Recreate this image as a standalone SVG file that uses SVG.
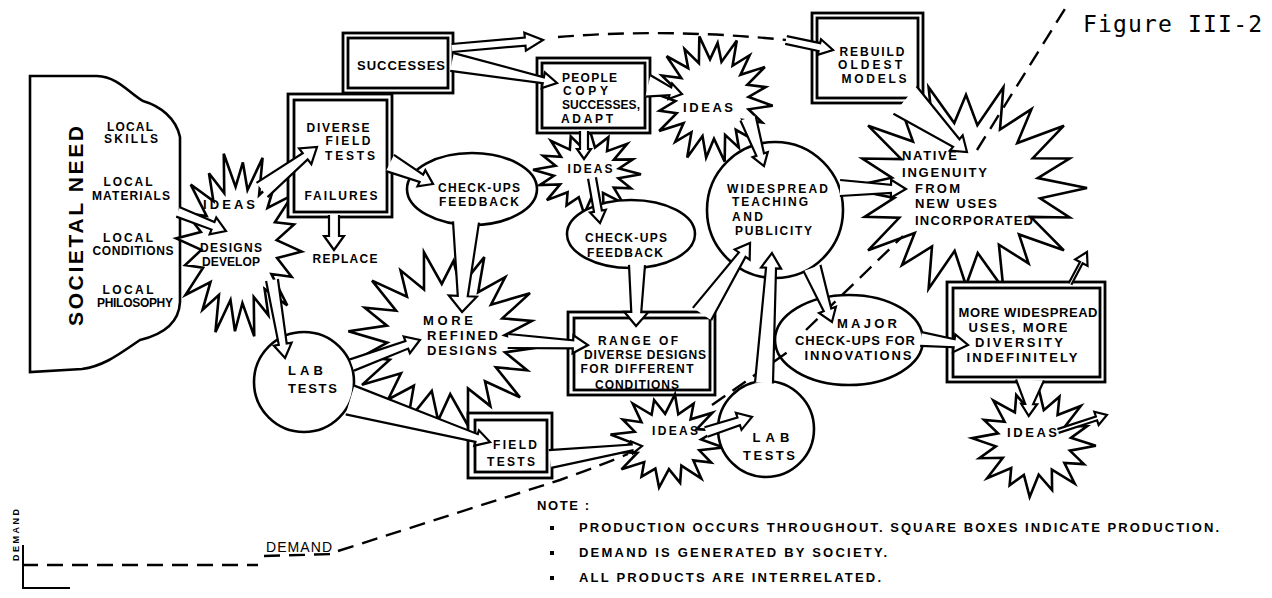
<svg xmlns="http://www.w3.org/2000/svg" width="1272" height="598" viewBox="0 0 1272 598">
<defs>
<style>
.s{fill:#fff;stroke:#000;stroke-width:2.6;stroke-linejoin:miter}
.b{fill:#fff;stroke:#000;stroke-width:2.8}
.a{fill:#fff;stroke:#000;stroke-width:2.2;stroke-linejoin:miter}
.d{fill:none;stroke:#000;stroke-width:2.4;stroke-dasharray:16 9}
.ax{fill:none;stroke:#000;stroke-width:2}
.t{font-family:"Liberation Sans",Arial,sans-serif;font-weight:bold;font-size:12px;fill:#000;text-anchor:middle}
.l{text-anchor:start}
.m{font-size:13px}
.n{font-family:"Liberation Sans",Arial,sans-serif;font-weight:bold;font-size:13px;fill:#000}
.f{font-family:"DejaVu Sans Mono","Liberation Mono",monospace;font-size:23px;fill:#000}
</style>
<path id="star" vector-effect="non-scaling-stroke" d="M1,0 L0.589,0.117 L0.832,0.345 L0.515,0.345 L0.707,0.707 L0.322,0.482 L0.352,0.85 L0.117,0.589 L0,1 L-0.121,0.608 L-0.337,0.813 L-0.334,0.499 L-0.707,0.707 L-0.482,0.322 L-0.859,0.356 L-0.608,0.121 L-1,0 L-0.589,-0.117 L-0.832,-0.345 L-0.499,-0.334 L-0.707,-0.707 L-0.345,-0.515 L-0.345,-0.832 L-0.113,-0.569 L0,-1 L0.117,-0.589 L0.352,-0.85 L0.345,-0.515 L0.707,-0.707 L0.482,-0.322 L0.832,-0.345 L0.589,-0.117 Z"/>
<path id="star20" vector-effect="non-scaling-stroke" d="M1,0 L0.613,0.097 L0.856,0.278 L0.535,0.272 L0.809,0.588 L0.438,0.438 L0.517,0.712 L0.272,0.535 L0.309,0.951 L0.097,0.613 L0,0.92 L-0.094,0.593 L-0.309,0.951 L-0.281,0.552 L-0.529,0.728 L-0.424,0.424 L-0.809,0.588 L-0.552,0.281 L-0.837,0.272 L-0.593,0.094 L-1,0 L-0.613,-0.097 L-0.856,-0.278 L-0.535,-0.272 L-0.809,-0.588 L-0.438,-0.438 L-0.529,-0.728 L-0.272,-0.535 L-0.309,-0.951 L-0.097,-0.613 L0,-0.88 L0.094,-0.593 L0.309,-0.951 L0.281,-0.552 L0.541,-0.744 L0.424,-0.424 L0.809,-0.588 L0.552,-0.281 L0.856,-0.278 L0.593,-0.094 Z"/>
</defs>
<rect width="1272" height="598" fill="#fff"/>

<g id="societal-need">
<path class="s" d="M30,372 L30,76 L97,76 C118,77 128,92 143,101 C160,106 176,118 180,137 L180,302 C179,322 165,334 140,340 C122,352 105,366 82,369 L30,372 Z"/>
<text class="t" transform="translate(83,226) rotate(-90)" style="font-size:21px" textLength="200">SOCIETAL NEED</text>
<text class="t" x="130" y="131" textLength="46">LOCAL</text>
<text class="t" x="131" y="143" textLength="54">SKILLS</text>
<text class="t" x="128" y="186" textLength="49">LOCAL</text>
<text class="t" x="131" y="200" textLength="78">MATERIALS</text>
<text class="t" x="128" y="242" textLength="50">LOCAL</text>
<text class="t" x="133" y="255" textLength="81">CONDITIONS</text>
<text class="t" x="128" y="294" textLength="51">LOCAL</text>
<text class="t" x="135" y="307" textLength="76">PHILOSOPHY</text>
</g>

<g id="ideas-designs-develop">
<use href="#star20" class="s" transform="translate(239,245) scale(63,94) rotate(4)"/>
<text class="t m" x="229" y="209" textLength="52">IDEAS</text>
<text class="t" x="231" y="252" textLength="62">DESIGNS</text>
<text class="t" x="231" y="266" textLength="58">DEVELOP</text>
</g>

<g id="diverse-field-tests">
<rect class="b" x="288" y="94" width="104" height="123"/>
<rect class="b" x="294" y="100" width="93" height="112"/>
<text class="t" x="338" y="132" textLength="63">DIVERSE</text>
<text class="t" x="348" y="145" textLength="45">FIELD</text>
<text class="t" x="350" y="160" textLength="50">TESTS</text>
<text class="t" x="341" y="200" textLength="73">FAILURES</text>
</g>

<g id="successes">
<rect class="b" x="343" y="33" width="110" height="60"/>
<rect class="b" x="348" y="38" width="100" height="50"/>
<text class="t m" x="401" y="70" textLength="88">SUCCESSES</text>
</g>

<g id="replace">
<text class="t" x="345" y="263" textLength="65">REPLACE</text>
</g>

<g id="lab-tests-1">
<circle class="s" cx="304" cy="382" r="50"/>
<text class="t m l" x="288" y="375" textLength="35">LAB</text>
<text class="t m l" x="288" y="393" textLength="49">TESTS</text>
</g>

<g id="more-refined-designs">
<use href="#star20" class="s" transform="translate(446,339) scale(98,89) rotate(5)"/>
<text class="t m l" x="423" y="325" textLength="50">MORE</text>
<text class="t m l" x="427" y="340" textLength="71">REFINED</text>
<text class="t m l" x="427" y="355" textLength="70">DESIGNS</text>
</g>

<g id="checkups-feedback-1">
<ellipse class="s" cx="472" cy="189" rx="65" ry="36"/>
<text class="t" x="479" y="192" textLength="82">CHECK-UPS</text>
<text class="t" x="479" y="206" textLength="80">FEEDBACK</text>
</g>

<g id="field-tests">
<rect class="b" x="468" y="413" width="84" height="65"/>
<rect class="b" x="475" y="420" width="72" height="52"/>
<text class="t" x="515" y="449" textLength="44">FIELD</text>
<text class="t" x="511" y="466" textLength="48">TESTS</text>
</g>

<g id="ideas-2">
<use href="#star" class="s" transform="translate(587,172) scale(54,42) rotate(3)"/>
<text class="t" x="590" y="173" textLength="45">IDEAS</text>
</g>

<g id="people-copy">
<rect class="b" x="537" y="58" width="113" height="75"/>
<rect class="b" x="542" y="63" width="103" height="65"/>
<text class="t l" x="562" y="82" textLength="55">PEOPLE</text>
<text class="t l" x="563" y="95" textLength="45">COPY</text>
<text class="t l" x="562" y="109" textLength="78">SUCCESSES,</text>
<text class="t l" x="561" y="123" textLength="52">ADAPT</text>
</g>

<g id="checkups-feedback-2">
<ellipse class="s" cx="631" cy="234" rx="64" ry="34"/>
<text class="t" x="626" y="242" textLength="82">CHECK-UPS</text>
<text class="t" x="625" y="257" textLength="76">FEEDBACK</text>
</g>

<g id="range-of-designs">
<rect class="b" x="568" y="312" width="147" height="83"/>
<rect class="b" x="574" y="318" width="136" height="72"/>
<text class="t" x="638" y="345" textLength="80">RANGE OF</text>
<text class="t" x="645" y="359" textLength="122">DIVERSE DESIGNS</text>
<text class="t" x="637" y="373" textLength="113">FOR DIFFERENT</text>
<text class="t" x="637" y="389" textLength="84">CONDITIONS</text>
</g>

<g id="ideas-1">
<use href="#star20" class="s" transform="translate(712,99) scale(61,64) rotate(6)"/>
<text class="t m" x="708" y="112" textLength="50">IDEAS</text>
</g>

<g id="widespread-teaching">
<circle class="s" cx="775" cy="210" r="68"/>
<text class="t l" x="727" y="193" textLength="101">WIDESPREAD</text>
<text class="t l" x="732" y="206" textLength="76">TEACHING</text>
<text class="t l" x="732" y="221" textLength="31">AND</text>
<text class="t l" x="735" y="235" textLength="77">PUBLICITY</text>
</g>

<g id="rebuild-oldest-models">
<rect class="b" x="812" y="13" width="111" height="90"/>
<rect class="b" x="817" y="18" width="101" height="80"/>
<text class="t" x="872" y="56" textLength="65">REBUILD</text>
<text class="t" x="870" y="69" textLength="64">OLDEST</text>
<text class="t" x="874" y="83" textLength="65">MODELS</text>
</g>

<g id="native-ingenuity">
<use href="#star20" class="s" transform="translate(966,188) scale(121,106)"/>
<text class="t m l" x="902" y="160" textLength="55">NATIVE</text>
<text class="t m l" x="902" y="177" textLength="85">INGENUITY</text>
<text class="t m l" x="915" y="193" textLength="45">FROM</text>
<text class="t m l" x="915" y="208" textLength="82">NEW USES</text>
<text class="t m l" x="915" y="225" textLength="118">INCORPORATED</text>
</g>

<g id="major-checkups">
<ellipse class="s" cx="849" cy="340" rx="74" ry="45"/>
<text class="t m" x="867" y="328" textLength="60">MAJOR</text>
<text class="t m" x="855" y="345" textLength="120">CHECK-UPS FOR</text>
<text class="t m" x="858" y="360" textLength="107">INNOVATIONS</text>
</g>

<g id="more-widespread-uses">
<rect class="b" x="947" y="282" width="158" height="100"/>
<rect class="b" x="953" y="288" width="147" height="89"/>
<text class="t m" x="1028" y="317" textLength="139">MORE WIDESPREAD</text>
<text class="t m" x="1018" y="332" textLength="99">USES, MORE</text>
<text class="t m" x="1019" y="347" textLength="88">DIVERSITY</text>
<text class="t m" x="1022" y="362" textLength="111">INDEFINITELY</text>
</g>

<g id="ideas-3">
<use href="#star" class="s" transform="translate(667,441) scale(57,47) rotate(8)"/>
<text class="t" x="675" y="435" textLength="46">IDEAS</text>
</g>

<g id="lab-tests-2">
<circle class="s" cx="766" cy="429" r="48"/>
<text class="t m" x="771" y="442" textLength="37">LAB</text>
<text class="t m" x="769" y="460" textLength="52">TESTS</text>
</g>

<g id="ideas-4">
<use href="#star" class="s" transform="translate(1034,442) scale(62,55) rotate(4)"/>
<text class="t m" x="1032" y="437" textLength="50">IDEAS</text>
</g>

<g id="connectors">
<path class="d" d="M22,565 L258,565 M264,556 L334,554 M338,551 Q460,512 560,480 Q602,465 628,454 M712,405 Q755,375 789,351 M806,330 L870,268 L903,236 M977,150 L1068,4"/>
<path class="d" d="M558,37 Q670,28 786,40"/>
<path class="a" transform="translate(178,212) rotate(21.6)" d="M0,-5 L37.6,-4 L37.6,-9 L51.6,0 L37.6,9 L37.6,4 L0,5"/>
<path class="a" transform="translate(262,190) rotate(-38)" d="M0,-9 L54.8,-4 L54.8,-10 L69.8,0 L54.8,10 L54.8,4 L0,9"/>
<path class="a" transform="translate(272,280) rotate(80.5)" d="M0,-6 L65.1,-4 L65.1,-9 L79.1,0 L65.1,9 L65.1,4 L0,6"/>
<path class="a" transform="translate(452,48) rotate(-5)" d="M0,-4 L73.4,-4 L73.4,-9 L91.4,0 L73.4,9 L73.4,4 L0,4"/>
<path class="a" transform="translate(452,62) rotate(11.3)" d="M0,-9 L93.1,-3 L93.1,-8 L107.1,0 L93.1,8 L93.1,3 L0,9"/>
<path class="a" transform="translate(786,40) rotate(12)" d="M0,-4 L34.1,-4 L34.1,-8 L48.1,0 L34.1,8 L34.1,4 L0,4"/>
<path class="a" transform="translate(390,163) rotate(26)" d="M0,-9 L34.9,-4 L34.9,-9 L47.9,0 L34.9,9 L34.9,4 L0,9"/>
<path class="a" transform="translate(334,215) rotate(90)" d="M0,-5 L21,-5 L21,-10 L35,0 L21,10 L21,5 L0,5"/>
<path class="a" transform="translate(466,222) rotate(92.5)" d="M0,-13 L74.1,-5 L74.1,-14 L90.1,0 L74.1,14 L74.1,5 L0,13"/>
<path class="a" transform="translate(352,365) rotate(-20.2)" d="M0,-6 L58.4,-4 L58.4,-9 L72.4,0 L58.4,9 L58.4,4 L0,6"/>
<path class="a" transform="translate(350,400) rotate(16.7)" d="M0,-15 L132.2,-4 L132.2,-8 L146.2,0 L132.2,8 L132.2,4 L0,15"/>
<path class="a" transform="translate(508,341) rotate(2.9)" d="M0,-7 L65.1,-4 L65.1,-9 L80.1,0 L65.1,9 L65.1,4 L0,7"/>
<path class="a" transform="translate(584,131) rotate(90)" d="M0,-4 L18,-4 L18,-7 L28,0 L18,7 L18,4 L0,4"/>
<path class="a" transform="translate(592,178) rotate(79.9)" d="M0,-4 L33.7,-4 L33.7,-8 L45.7,0 L33.7,8 L33.7,4 L0,4"/>
<path class="a" transform="translate(637,265) rotate(90.9)" d="M0,-8 L47,-5 L47,-12 L61,0 L47,12 L47,5 L0,8"/>
<path class="a" transform="translate(648,86) rotate(13.2)" d="M0,-11 L22.9,-4 L22.9,-8 L34.9,0 L22.9,8 L22.9,4 L0,11"/>
<path class="a" transform="translate(748,118) rotate(71.6)" d="M0,-8 L38.6,-4 L38.6,-8 L50.6,0 L38.6,8 L38.6,4 L0,8"/>
<path class="a" transform="translate(702,314) rotate(-55.9)" d="M0,-11 L71.7,-4 L71.7,-9 L85.7,0 L71.7,9 L71.7,4 L0,11"/>
<path class="a" transform="translate(764,383) rotate(-86.5)" d="M0,-9 L115.2,-5 L115.2,-10 L130.2,0 L115.2,10 L115.2,5 L0,9"/>
<path class="a" transform="translate(840,188) rotate(0.9)" d="M0,-8 L51,-4 L51,-9 L66,0 L51,9 L51,4 L0,8"/>
<path class="a" transform="translate(812,268) rotate(69.7)" d="M0,-9 L44.6,-4 L44.6,-9 L57.6,0 L44.6,9 L44.6,4 L0,9"/>
<path class="a" transform="translate(905,100) rotate(40)" d="M0,-18 L66.9,-5 L66.9,-10 L80.9,0 L66.9,10 L66.9,5 L0,18"/>
<path class="a" transform="translate(921,339) rotate(7.3)" d="M0,-7 L33.4,-4 L33.4,-9 L47.4,0 L33.4,9 L33.4,4 L0,7"/>
<path class="a" transform="translate(1030,380) rotate(92)" d="M0,-14 L24,-4 L24,-8 L36,0 L24,8 L24,4 L0,14"/>
<path class="a" transform="translate(1058,431) rotate(-18.1)" d="M0,-2 L40.5,-2 L40.5,-7 L51.5,0 L40.5,7 L40.5,2 L0,2"/>
<path class="a" transform="translate(1070,284) rotate(-62)" d="M0,-1.5 L24.2,-1.5 L24.2,-7 L36.2,0 L24.2,7 L24.2,1.5 L0,1.5"/>
<path class="a" transform="translate(706,432) rotate(-18.1)" d="M0,-5 L34.4,-4 L34.4,-9 L48.4,0 L34.4,9 L34.4,4 L0,5"/>
<path class="a" transform="translate(550,459) rotate(-8)" d="M0,-9 L82.9,-3 L82.9,-6 L92.9,0 L82.9,6 L82.9,3 L0,9"/>
</g>

<g id="demand-legend">
<text class="t" transform="translate(19,535) rotate(-90)" style="font-size:9px" textLength="52">DEMAND</text>
<path class="ax" d="M23,545 L23,588 L70,588"/>
<text x="266" y="552" style="font-family:'Liberation Sans',Arial,sans-serif;font-size:14px" textLength="66">DEMAND</text>
</g>

<g id="notes">
<text class="n" x="537" y="510" textLength="52">NOTE :</text>
<rect x="550" y="526" width="4" height="4"/>
<rect x="550" y="551" width="4" height="4"/>
<rect x="550" y="576" width="4" height="4"/>
<text class="n" x="579" y="532" textLength="640">PRODUCTION OCCURS THROUGHOUT. SQUARE BOXES INDICATE PRODUCTION.</text>
<text class="n" x="579" y="557" textLength="308">DEMAND IS GENERATED BY SOCIETY.</text>
<text class="n" x="579" y="582" textLength="302">ALL PRODUCTS ARE INTERRELATED.</text>
</g>

<g id="title">
<text class="f" x="1083" y="32" textLength="179">Figure III-2</text>
</g>
</svg>
